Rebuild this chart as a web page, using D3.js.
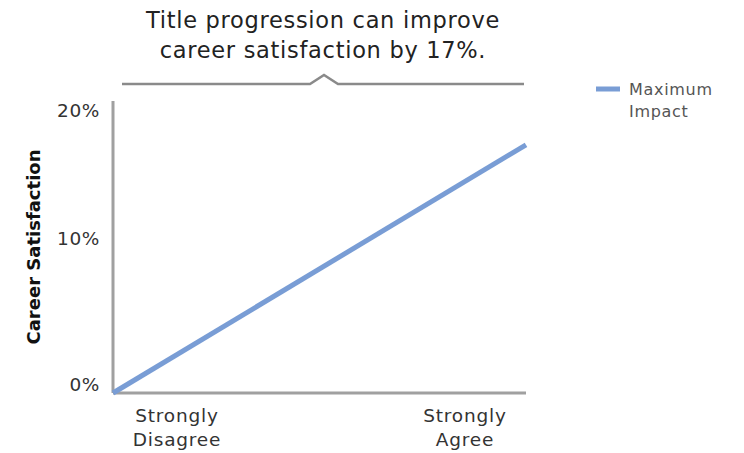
<!DOCTYPE html>
<html>
<head>
<meta charset="utf-8">
<script src="https://cdn.jsdelivr.net/npm/d3@7"></script>
<style>
  body { margin: 0; background: #fff; }
  svg text { font-family: "DejaVu Sans", sans-serif; }
</style>
</head>
<body>
<svg width="744" height="453"></svg>
<script>
var categories = ["Strongly Disagree", "Strongly Agree"];
var values = [0, 17];
var seriesName = ["Maximum", "Impact"];
var yTicks = [0, 10, 20];
var titleLines = ["Title progression can improve", "career satisfaction by 17%."];

var margin = {left: 113, top: 101, right: 218, bottom: 60};
var svg = d3.select("svg");
var width = 744 - margin.left - margin.right;
var height = 453 - margin.top - margin.bottom;
var g = svg.append("g")
    .attr("transform", "translate(" + margin.left + "," + margin.top + ")");

var x = d3.scalePoint().domain(categories).range([0, width]);
var y = d3.scaleLinear().domain([0, 20]).range([height, 0]);

// title
svg.append("g").selectAll("text")
    .data(titleLines)
    .enter().append("text")
    .attr("x", 323)
    .attr("y", function(d, i) { return 28 + i * 30; })
    .attr("text-anchor", "middle")
    .attr("font-size", 22.5)
    .attr("letter-spacing", 0.7)
    .attr("fill", "#222")
    .text(function(d) { return d; });

// bracket under the title
var bx0 = 122, bx1 = 524, bmid = 324, by = 84;
svg.append("path")
    .attr("d", "M" + bx0 + "," + by + "H" + (bmid - 14) + "L" + bmid + "," + (by - 9) +
               "L" + (bmid + 14) + "," + by + "H" + bx1)
    .attr("fill", "none")
    .attr("stroke", "#8a8a8a")
    .attr("stroke-width", 2.5);

// axes
g.append("line")
    .attr("x1", 0).attr("x2", 0).attr("y1", 0).attr("y2", height)
    .attr("stroke", "#a0a0a0").attr("stroke-width", 3);
g.append("line")
    .attr("x1", 0).attr("x2", width).attr("y1", height).attr("y2", height)
    .attr("stroke", "#a0a0a0").attr("stroke-width", 3);

g.append("g").selectAll("text")
    .data(yTicks)
    .enter().append("text")
    .attr("x", -13)
    .attr("y", function(d) { return Math.max(y(d), 18) - 2; })
    .attr("text-anchor", "end")
    .attr("font-size", 18.5)
    .attr("letter-spacing", 0.6)
    .attr("fill", "#333")
    .text(function(d) { return d + "%"; });

// x labels, pulled inward from the ends
var xLab = g.append("g").selectAll("text")
    .data(categories)
    .enter().append("text")
    .attr("transform", function(d, i) {
        var off = i === 0 ? 64 : -61;
        return "translate(" + (x(d) + off) + "," + (height + 29) + ")";
    })
    .attr("text-anchor", "middle")
    .attr("font-size", 18.5)
    .attr("letter-spacing", 0.8)
    .attr("fill", "#333");
xLab.selectAll("tspan")
    .data(function(d) { return d.split(" "); })
    .enter().append("tspan")
    .attr("x", 0)
    .attr("dy", function(d, i) { return i === 0 ? 0 : 24; })
    .text(function(d) { return d; });

svg.append("text")
    .attr("transform", "translate(40,247) rotate(-90)")
    .attr("text-anchor", "middle")
    .attr("font-size", 18)
    .attr("font-weight", "bold")
    .attr("fill", "#111")
    .text("Career Satisfaction");

// line
var line = d3.line()
    .x(function(d, i) { return x(categories[i]); })
    .y(function(d) { return y(d); });
g.append("path")
    .datum(values)
    .attr("d", line)
    .attr("fill", "none")
    .attr("stroke", "#799dd5")
    .attr("stroke-width", 5);

// legend
var leg = svg.append("g").attr("transform", "translate(596,89)");
leg.append("line")
    .attr("x1", 0).attr("x2", 24)
    .attr("stroke", "#799dd5").attr("stroke-width", 5);
leg.selectAll("text")
    .data(seriesName)
    .enter().append("text")
    .attr("x", 33)
    .attr("y", function(d, i) { return 6 + i * 22; })
    .attr("font-size", 16)
    .attr("letter-spacing", 0.7)
    .attr("fill", "#555")
    .text(function(d) { return d; });
</script>
</body>
</html>
